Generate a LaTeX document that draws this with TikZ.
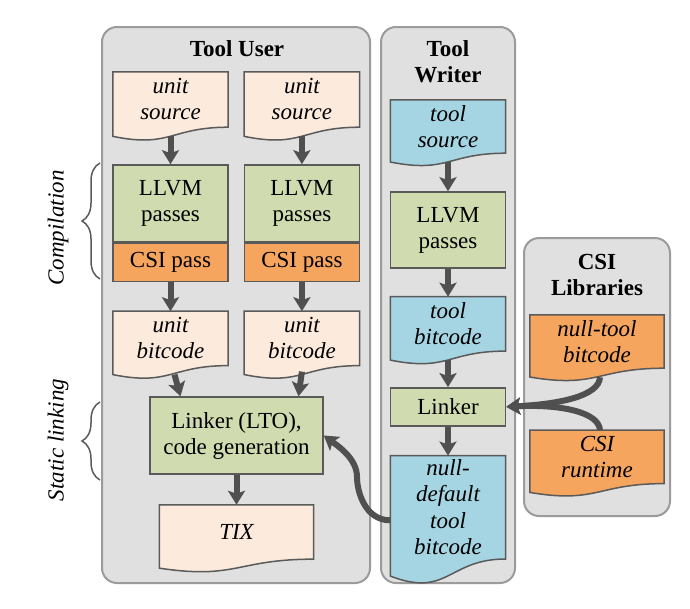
\documentclass[tikz,border=0pt]{standalone}
\usepackage{fontspec}
\setmainfont{Liberation Serif}
\usepackage{xcolor}
\usepackage{tikz}
\usetikzlibrary{arrows.meta, positioning, calc, decorations.pathreplacing}

\definecolor{panelgray}{HTML}{E0E0E0}
\definecolor{panelline}{HTML}{9B9B9B}
\definecolor{boxline}{HTML}{5A5A5A}
\definecolor{arrowgray}{HTML}{505050}
\definecolor{peach}{HTML}{FCEBDD}
\definecolor{passgreen}{HTML}{D0DCAF}
\definecolor{csiorange}{HTML}{F6A55E}
\definecolor{sky}{HTML}{A5D5E3}

\pgfdeclarelayer{panels}
\pgfdeclarelayer{docs}
\pgfsetlayers{panels,docs,main}

\begin{document}
\begin{tikzpicture}[
    x=1pt, y=-1pt,
    panel/.style={draw=panelline, fill=panelgray, line width=2pt, rounded corners=15pt},
    title/.style={font=\fontsize{23}{26}\selectfont\bfseries, align=center},
    box/.style={rectangle, draw=boxline, line width=1.5pt, inner sep=0pt, align=center, minimum width=115pt, font=\fontsize{23}{26}\selectfont},
    doc/.style={rectangle, inner sep=0pt, align=center, minimum width=115pt, minimum height=54pt, font=\fontsize{23}{26}\selectfont\itshape},
    docline/.style={draw=boxline, line width=1.5pt},
    arrow/.style={-{Stealth[length=14pt,width=17pt,inset=3pt]}, line width=6pt, draw=arrowgray},
    brace/.style={decorate, decoration={brace, amplitude=18pt}, draw=boxline, line width=1.5pt},
    phase/.style={rotate=90, font=\fontsize{23}{26}\selectfont\itshape}
]
\useasboundingbox (0,0) rectangle (690,608);

% Panels
\begin{pgfonlayer}{panels}
\draw[panel] (102,27) rectangle (370,583);
\draw[panel] (381,27) rectangle (515,583);
\draw[panel] (524,238) rectangle (670,516);
\end{pgfonlayer}

\node[title] (usertitle) at (237,49) {Tool User};
\node[title] (writertitle) at (448,62) {Tool\\Writer};
\node[title] (libtitle) at (597,275) {CSI\\Libraries};

% Tool User - two units
\node[doc, minimum height=55pt] (us1) at (170.5,99.5) {unit\\source};
\node[doc, minimum height=55pt, right=16pt of us1] (us2) {unit\\source};
\node[box, fill=passgreen, minimum height=77pt, below=37pt of us1] (llvm1) {LLVM\\passes};
\node[box, fill=passgreen, minimum height=77pt, below=37pt of us2] (llvm2) {LLVM\\passes};
\node[box, fill=csiorange, minimum height=38pt, below=0pt of llvm1] (csi1) {CSI pass};
\node[box, fill=csiorange, minimum height=38pt, below=0pt of llvm2] (csi2) {CSI pass};
\node[doc, below=29pt of csi1] (ub1) {unit\\bitcode};
\node[doc, below=29pt of csi2] (ub2) {unit\\bitcode};
\node[box, fill=passgreen, minimum width=173pt, minimum height=77pt] (lto) at (236.5,435.5) {Linker (LTO),\\code generation};
\node[doc, minimum width=154pt, below=30pt of lto] (tix) {TIX};

% Tool Writer
\node[doc, minimum height=53pt] (ts) at (448,126.5) {tool\\source};
\node[box, fill=passgreen, minimum height=76pt, below=38pt of ts] (llvm3) {LLVM\\passes};
\node[doc, below=28pt of llvm3] (tb) {tool\\bitcode};
\node[box, fill=passgreen, minimum height=38pt, below=36pt of tb] (link) {Linker};
\node[doc, minimum height=103pt, below=29pt of link, font=\fontsize{23}{26.5}\selectfont\itshape] (nd) {null-\\default\\tool\\bitcode};

% CSI Libraries
\node[doc, minimum width=134pt, minimum height=53pt] (ntb) at (597,341.5) {null-tool\\bitcode};
\node[doc, minimum width=134pt, minimum height=53pt, below=62pt of ntb] (rt) {CSI\\runtime};

% Document outlines with wavy bottom
\begin{pgfonlayer}{docs}
\foreach \nm/\cl in {us1/peach, us2/peach, ub1/peach, ub2/peach, tix/peach, ts/sky, tb/sky, nd/sky, ntb/csiorange, rt/csiorange}
  \draw[docline, fill=\cl] let \p1=(\nm.north), \p2=(\nm.south), \n1={veclen(\x1-\x2,\y1-\y2)} in
    (\nm.north west) -- (\nm.north east) -- (\nm.south east)
    .. controls (\nm.south) and ([yshift=-0.38*\n1]\nm.south) .. ([yshift=-0.165*\n1]\nm.south west) -- cycle;
\end{pgfonlayer}

% Arrows
\draw[arrow, shorten <=9pt] (us1) -- (llvm1);
\draw[arrow, shorten <=9pt] (us2) -- (llvm2);
\draw[arrow] (csi1) -- (ub1);
\draw[arrow] (csi2) -- (ub2);
\draw[arrow] ([xshift=4pt, yshift=-9pt]ub1.south) -- ([xshift=-56pt]lto.north);
\draw[arrow] ([yshift=-6pt]ub2.south) -- ([xshift=62pt]lto.north);
\draw[arrow] (lto) -- (tix);
\draw[arrow, shorten <=9pt] (ts) -- (llvm3);
\draw[arrow] (llvm3) -- (tb);
\draw[arrow, shorten <=9pt] (tb) -- (link);
\draw[arrow] (link) -- (nd);
\draw[arrow] ([xshift=3pt, yshift=-9pt]ntb.south) .. controls (599,396) and (560,404) .. (link.east);
\draw[arrow] ([xshift=3pt]rt.north) .. controls (599,412) and (560,404) .. (link.east);
\draw[arrow] ([yshift=-13pt]nd.west) .. controls +(-25,0) and +(0,15) .. (357,477)
    .. controls +(0,-18) and +(15,11) .. (lto.east);

% Phases
\draw[brace] (100,279) -- (100,163);
\draw[brace] (100,480) -- (100,402);
\node[phase] (compile) at (58,228) {Compilation};
\node[phase] (staticlink) at (58,440) {Static linking};

\end{tikzpicture}
\end{document}
